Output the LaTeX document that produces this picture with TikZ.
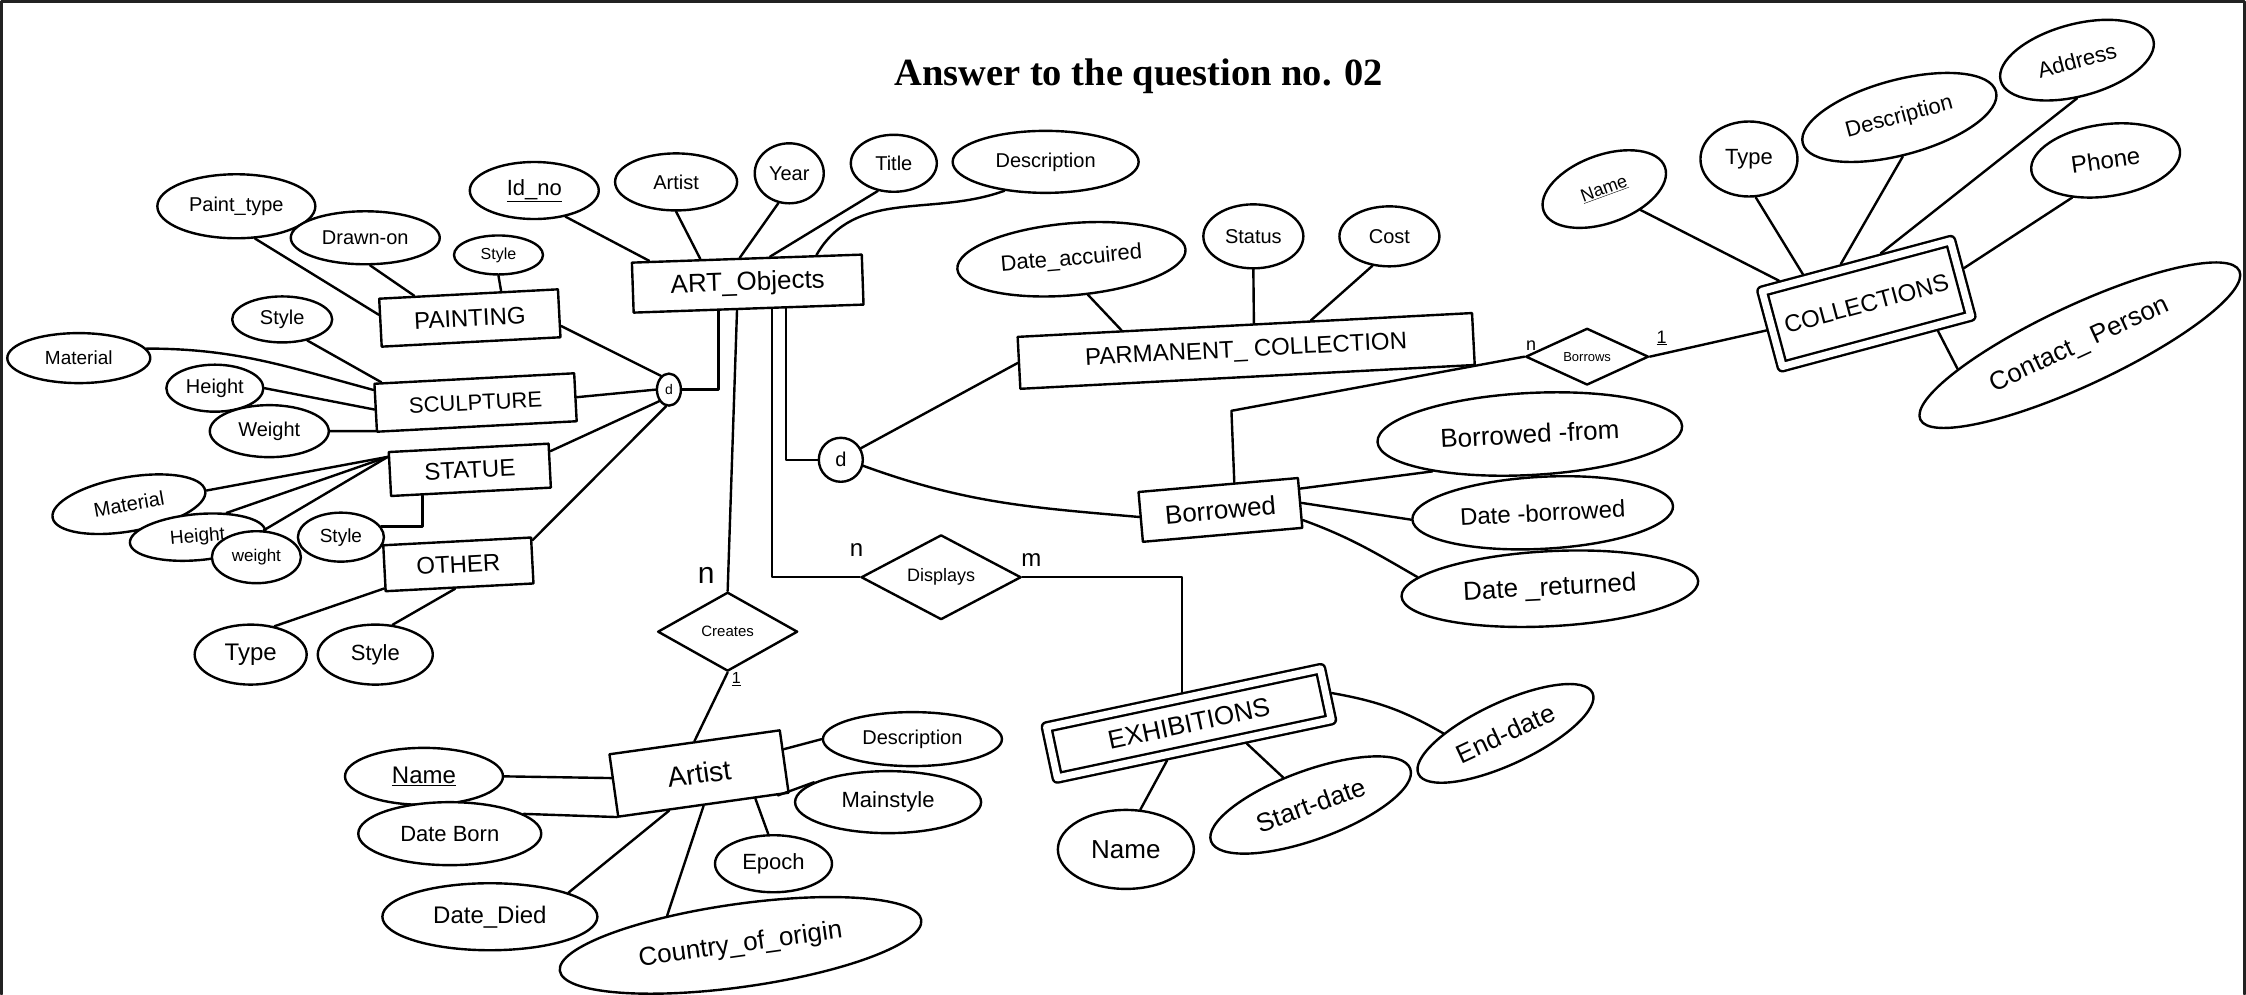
\documentclass[tikz,border=0pt]{standalone}
\usepackage{fontspec}
\setmainfont{Liberation Serif}
\newfontfamily\handfont{Liberation Sans}
\usetikzlibrary{shapes.geometric,calc}
\newcommand\fsz[1]{\fontsize{#1}{#1}\selectfont}
\definecolor{framecol}{HTML}{222222}
\begin{document}
\begin{tikzpicture}[x=1.4324pt,y=-1.4324pt,line width=2.4pt,line join=round,line cap=round,
  fs/.style={font=\handfont\fsz{#1}},
  sz/.style 2 args={minimum width=#1pt,minimum height=#2pt},
  attr/.style={ellipse,draw,fill=white,inner sep=0pt,fs=20},
  ent/.style={rectangle,draw,fill=white,inner sep=2pt,fs=24},
  weak/.style={rectangle,draw,double,double distance=7pt,outer sep=5.9pt,inner sep=2pt,fs=24},
  rel/.style={diamond,draw,fill=white,inner sep=0pt,fs=15},
  dnode/.style={ellipse,draw,fill=white,inner sep=0pt,fs=16},
  card/.style={inner sep=0pt,fs=24}]
\useasboundingbox (0,0) rectangle (1568,694);
\draw[framecol,line width=3pt] (1,694) -- (1,1) -- (1567,1) -- (1567,694);

\node[inner sep=0pt,font=\bfseries\fsz{38.5}] (title) at (795,53) {Answer to the question no. 02};

% ART_Objects and attributes
\node[ent,sz={230}{50},rotate=2,fs=26] (art) at (522,198) {ART\_Objects};
\node[attr,sz={129}{57},fs=22] (idno) at (373,133) {\underline{Id\_no}};
\node[attr,sz={122}{57}] (artA) at (472,127) {Artist};
\node[attr,sz={69}{60}] (year) at (551,121) {Year};
\node[attr,sz={86}{57}] (titleA) at (624,114) {Title};
\node[attr,sz={186}{62}] (descA) at (730,113) {Description};

% specialisation left
\node[dnode,sz={24}{32},fs=14] (dL) at (467,272) {d};
\node[ent,sz={179}{48},rotate=3] (painting) at (328,222) {PAINTING};
\node[attr,sz={158}{64}] (paintType) at (165,144) {Paint\_type};
\node[attr,sz={149}{53}] (drawn) at (255,166) {Drawn-on};
\node[attr,sz={89}{39},fs=16] (styleP) at (348,178) {Style};

\node[ent,sz={200}{48},rotate=3,fs=22] (sculpture) at (332,281) {SCULPTURE};
\node[attr,sz={100}{46}] (styleS) at (197,223) {Style};
\node[attr,sz={143}{50},fs=19] (materialS) at (55,250) {Material};
\node[attr,sz={97}{47}] (heightS) at (150,271) {Height};
\node[attr,sz={119}{52}] (weightS) at (188,301) {Weight};

\node[ent,sz={160}{44},rotate=3] (statue) at (328,328) {STATUE};
\node[attr,sz={155}{54},rotate=10] (materialT) at (90,352) {Material};
\node[attr,sz={136}{46},rotate=5,fs=19] (heightT) at (138,375) {Height};
\node[attr,sz={89}{52},fs=17] (weightT) at (179,389) {weight};
\node[attr,sz={86}{49},fs=19] (styleT) at (238,375) {Style};

\node[ent,sz={148}{46},rotate=3] (other) at (320,394) {OTHER};
\node[attr,sz={112}{60},fs=24] (typeO) at (175,457) {Type};
\node[attr,sz={115}{60},fs=22] (styleO) at (262,457) {Style};

% Creates / Artist
\node[rel,sz={140}{79}] (creates) at (508,441) {Creates};
\node[ent,sz={172}{63},rotate=8,fs=28] (artist) at (488,540) {Artist};
\node[attr,sz={158}{57},fs=24] (nameA) at (296,542) {\underline{Name}};
\node[attr,sz={183}{63},fs=22] (dateBorn) at (314,582) {Date Born};
\node[attr,sz={215}{67},fs=24] (dateDied) at (342,640) {Date\_Died};
\node[attr,sz={365}{83},rotate=8,fs=26] (country) at (517,660) {Country\_of\_origin};
\node[attr,sz={117}{57},fs=22] (epoch) at (540,603) {Epoch};
\node[attr,sz={186}{62},fs=22] (mainstyle) at (620,560) {Mainstyle};
\node[attr,sz={179}{54}] (descArt) at (637,516) {Description};

% right specialisation
\node[dnode,sz={44}{44},fs=20] (dR) at (587,321) {d};
\node[ent,sz={455}{52},rotate=3] (pc) at (870,245) {PARMANENT\_ COLLECTION};
\node[attr,sz={229}{72},rotate=5,fs=22] (dateAcc) at (748,181) {Date\_accuired};
\node[attr,sz={100}{64}] (status) at (875,165) {Status};
\node[attr,sz={100}{60}] (cost) at (970,165) {Cost};

\node[ent,sz={160}{50},rotate=5,fs=26] (borrowed) at (852,356) {Borrowed};
\node[attr,sz={305}{82},rotate=3,fs=26] (bfrom) at (1068,303) {Borrowed -from};
\node[attr,sz={261}{72},rotate=3,fs=24] (dbor) at (1077,358) {Date -borrowed};
\node[attr,sz={297}{75},rotate=3,fs=26] (dret) at (1082,411) {Date \_returned};

\node[rel,sz={123}{47},fs=13] (borrows) at (1108,249) {Borrows};
\node[weak,sz={195}{78},rotate=15] (coll) at (1303,212) {COLLECTIONS};
\node[attr,sz={129}{68},rotate=20,fs=18] (collName) at (1120,132) {\underline{Name}};
\node[attr,sz={97}{75},fs=22] (collType) at (1221,111) {Type};
\node[attr,sz={200}{75},rotate=15,fs=22] (collDesc) at (1326,82) {Description};
\node[attr,sz={158}{72},rotate=15,fs=22] (address) at (1450,42) {Address};
\node[attr,sz={150}{72},rotate=8,fs=24] (phone) at (1470,112) {Phone};
\node[attr,sz={352}{80},rotate=25,fs=26] (contact) at (1452,241) {Contact\_ Person};

% Displays / EXHIBITIONS
\node[rel,sz={160}{75},fs=18] (displays) at (657,403) {Displays};
\node[weak,sz={280}{52},rotate=12,fs=26] (exh) at (830,505) {EXHIBITIONS};
\node[attr,sz={136}{79},fs=26] (nameE) at (786,593) {Name};
\node[attr,sz={212}{69},rotate=20,fs=26] (startE) at (915,562) {Start-date};
\node[attr,sz={192}{62},rotate=25,fs=26] (endE) at (1051,512) {End-date};

% cardinalities
\node[card,fs=30] (cn1) at (493,402) {n};
\node[card,fs=16] (c11) at (514,474) {\underline{1}};
\node[card] (cn2) at (598,384) {n};
\node[card] (cm2) at (720,391) {m};
\node[card,fs=18] (cn3) at (1069,241) {n};
\node[card,fs=18] (c13) at (1160,236) {\underline{1}};

% ---- connectors ----
\draw (idno.-40) -- ($(art.north west)!0.08!(art.north east)$);
\draw (artA.south) -- ($(art.north west)!0.3!(art.north east)$);
\draw (year.-110) -- ($(art.north west)!0.47!(art.north east)$);
\draw (titleA.-120) -- ($(art.north west)!0.6!(art.north east)$);
\draw (descA.-145) to[out=200,in=60] ($(art.north west)!0.8!(art.north east)$);

\draw ($(art.south west)!0.37!(art.south east)$) |- (dL.east);
\draw (painting.-8) -- (dL.120);
\draw (sculpture.east) -- (dL.west);
\draw (statue.10) -- (dL.-130);
\draw (other.15) -- (dL.-100);

\draw (paintType.-60) -- (painting.175);
\draw (drawn.-80) -- ($(painting.north west)!0.2!(painting.north east)$);
\draw (styleP.south) -- ($(painting.north west)!0.68!(painting.north east)$);

\draw (styleS.-40) -- ($(sculpture.north west)!0.04!(sculpture.north east)$);
\draw (materialS.8) to[out=0,in=165] (sculpture.170);
\draw (heightS.east) -- (sculpture.181);
\draw (weightS.east) -- (sculpture.193);

\draw (materialT.east) -- (statue.168);
\draw (heightT.35) -- (statue.168);
\draw (weightT.75) -- (statue.168);
\draw (styleT.15) -| ($(statue.south west)!0.2!(statue.south east)$);

\draw (typeO.50) -- (other.195);
\draw (styleO.60) -- ($(other.south west)!0.47!(other.south east)$);

\draw ($(art.south west)!0.45!(art.south east)$) -- (creates.north);
\draw ($(art.south west)!0.6!(art.south east)$) |- (displays.west);
\draw ($(art.south west)!0.66!(art.south east)$) |- (dR.west);

\draw (creates.south) -- (artist.north);
\draw (displays.east) -| (exh.north);

\draw (dR.30) -- (pc.west);
\draw (dR.-15) to[out=-20,in=175] (borrowed.west);

\draw ($(borrowed.north west)!0.6!(borrowed.north east)$) -- ++(-2,-50) -- (borrows.west);
\draw (borrows.east) -- (coll.west);

\draw (borrowed.10) -- (bfrom.198);
\draw (borrowed.east) -- (dbor.west);
\draw (borrowed.-12) to[out=-20,in=150] (dret.172);

\draw (dateAcc.-70) -- ($(pc.north west)!0.23!(pc.north east)$);
\draw (status.south) -- ($(pc.north west)!0.52!(pc.north east)$);
\draw (cost.-120) -- ($(pc.north west)!0.645!(pc.north east)$);

\draw (nameA.east) -- (artist.175);
\draw (dateBorn.15) -- (artist.200);
\draw (dateDied.17) -- ($(artist.south west)!0.3!(artist.south east)$);
\draw (country.150) -- ($(artist.south west)!0.5!(artist.south east)$);
\draw (epoch.100) -- ($(artist.south west)!0.8!(artist.south east)$);
\draw (mainstyle.165) -- ($(artist.south west)!0.93!(artist.south east)$);
\draw (descArt.west) -- (artist.8);

\draw ($(exh.south west)!0.4!(exh.south east)$) -- (nameE.70);
\draw ($(exh.south west)!0.68!(exh.south east)$) -- (startE.115);
\draw (exh.east) to[out=-10,in=150] (endE.155);

\draw (collName.-50) -- ($(coll.north west)!0.12!(coll.north east)$);
\draw (collType.-80) -- ($(coll.north west)!0.24!(coll.north east)$);
\draw (collDesc.-100) -- ($(coll.north west)!0.43!(coll.north east)$);
\draw (address.-105) -- ($(coll.north west)!0.63!(coll.north east)$);
\draw (phone.-140) -- (coll.5);
\draw (contact.166) -- ($(coll.south west)!0.8!(coll.south east)$);
\end{tikzpicture}
\end{document}
